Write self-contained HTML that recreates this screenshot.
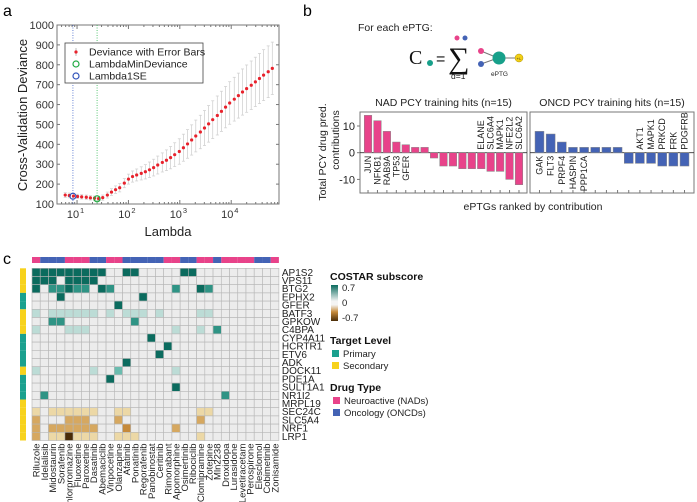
<!DOCTYPE html>
<html><head><meta charset="utf-8"><style>
body{margin:0;background:#fff;}
svg{display:block;font-family:"Liberation Sans",sans-serif;}
</style></head><body>
<svg id="fig" width="697" height="502" viewBox="0 0 697 502" xmlns="http://www.w3.org/2000/svg">
<text x="3" y="16" font-size="16">a</text>
<text x="303" y="16" font-size="16">b</text>
<text x="3" y="264" font-size="16">c</text>
<g id="pa"></g>
<g id="pb"></g>
<g id="pc"></g>
</svg>
<script>
// ---------- Panel a data ----------
const logLambda = [0.77,0.85,0.93,1.01,1.09,1.18,1.26,1.34,1.42,1.50,1.59,1.67,1.75,1.83,1.92,2.00,2.08,2.16,2.25,2.33,2.41,2.49,2.57,2.66,2.74,2.82,2.90,2.99,3.07,3.15,3.23,3.31,3.40,3.48,3.56,3.64,3.73,3.81,3.89,3.97,4.06,4.14,4.22,4.30,4.39,4.47,4.55,4.63,4.72,4.80];
const deviance = [145,143,140,138,136,134,131,129,127,132,145,160,172,182,205,225,238,246,254,262,272,283,296,309,320,333,348,364,383,402,422,442,462,482,503,524,545,566,587,608,627,645,663,680,697,714,731,748,765,782];
const devErr = [12,12,12,11,11,11,11,11,12,13,15,17,19,21,23,25,28,30,33,36,39,42,45,48,52,56,60,64,68,72,76,80,84,88,92,95,98,101,104,107,110,113,116,119,122,124,126,128,130,132];
const yTicksA = [100,200,300,400,500,600,700,800,900,1000];
const xTicksA = [1,2,3,4];
const lambda1SE = 0.92, lambdaMin = 1.39;
const dev1SE = 139, devMin = 126;

// ---------- Panel b data ----------
const nadValues = [14,12,8,4,3,2,2,-2,-5,-5,-6,-6,-6,-7,-7,-10,-12];
const nadLabelsLow = ["JUN","NFKB1","RAB9A","TP53","GFER"];
const nadLabelsHigh = ["ELANE","SLC6A4","MAPK1","NFE2L2","SLC6A2"];
const oncValues = [8,7,4,2,2,2,2,2,-4,-4,-4,-5,-5,-5];
const oncLabelsLow = ["GAK","FLT3","PRPF4","HASPIN","PPP1CA"];
const oncLabelsHigh = ["AKT1","MAPK1","PRKCD","FRK","PDGFRB"];
const yTicksB = [10,0,-10];

// ---------- Panel c data ----------
const drugs = ["Riluzole","Idelalisib","Midostaurin","Sorafenib","Chlorpromazine","Fluoxetine","Paroxetine","Dasatinib","Abemaciclib","Vinpocetine","Olanzapine","Afatinib","Ponatinib","Regorafenib","Panobinostat","Ceritinib","Rimonabant","Apomorphine","Osimertinib","Ribociclib","Clomipramine","Zotepine","Mln2238","Droxidopa","Lurasidone","Levetiracetam","Perospirone","Elesclomol","Cobimetinib","Zonisamide"];
const drugTypes = "PBBBPPPBBPPBBBBBPPBBPPBPPPPBBP";
const genes = ["AP1S2","VPS11","BTG2","EPHX2","GFER","BATF3","GPKOW","C4BPA","CYP4A11","HCRTR1","ETV6","ADK","DOCK11","PDE1A","SULT1A1","NR1I2","MRPL19","SEC24C","SLC5A4","NRF1","LRP1"];
const targetLevels = "SSSPPSSSPPPPSPPPSSSSS";
const scoreRows = [
"DDDDDDDDD00DD00000DD0000000000",
"DDD0DDDD0000000000000000000000",
"D0MMDMM0DM0000000M00DM00000000",
"000D000000000D0000000000000000",
"0000000000D0000000000000000000",
"L0LLLLLL0L0LLL0L0000LL00000000",
"00MM00000000M00000000000000000",
"L000LLL0000000000L00L0M0000000",
"00000000000000D000000000000000",
"0000000000000000D0000000000000",
"000000000000000D00000000000000",
"00000000000D000000000000000000",
"L000000L00N000000L000000000000",
"000000000D00000000000000000000",
"00000000000000000D000000000000",
"0M000000000000000000000M000000",
"000000000000000000000000000000",
"a0aaaaaa00aa00000000aa00000000",
"b000bbb000b000000000b000000000",
"b0bbbbbb000c00000b000000000000",
"b0aaKaaa00aaa0000000a000000000"];
const codeValue = {"0":0,"D":0.7,"M":0.45,"N":0.35,"L":0.15,"a":-0.18,"b":-0.38,"c":-0.48,"K":-0.7};

const NS="http://www.w3.org/2000/svg";
function mk(parent,tag,attrs,text){const e=document.createElementNS(NS,tag);for(const k in attrs)e.setAttribute(k,attrs[k]);if(text!==undefined)e.textContent=text;parent.appendChild(e);return e;}

// ===== Panel a =====
const pa=document.getElementById('pa');
const AX0=57,AX1=279,AY0=25,AY1=204;
const xA=v=>AX0+(v-0.61)/(4.93-0.61)*(AX1-AX0);
const yA=v=>AY1-(v-100)/900*(AY1-AY0);
let r=mk(pa,'rect',{x:AX0,y:AY0,width:AX1-AX0,height:AY1-AY0,fill:'#fff',stroke:'#777','stroke-width':1});


yTicksA.forEach(t=>{
 mk(pa,'line',{x1:AX0,x2:AX0+3,y1:yA(t),y2:yA(t),stroke:'#777'});
 mk(pa,'line',{x1:AX1,x2:AX1-3,y1:yA(t),y2:yA(t),stroke:'#777'});
 const tx=mk(pa,'text',{x:AX0-3,y:yA(t)+4,'font-size':11,'text-anchor':'end',fill:'#333'},t);
 
 
});
for(let d=0;d<5;d++){for(let m=1;m<10;m++){const v=d+Math.log10(m);if(v<0.61||v>4.93)continue;const L=m===1?4:2;
 mk(pa,'line',{x1:xA(v),x2:xA(v),y1:AY1,y2:AY1-L,stroke:'#777'});mk(pa,'line',{x1:xA(v),x2:xA(v),y1:AY0,y2:AY0+L,stroke:'#777'});}}
xTicksA.forEach(t=>{
 const tx=mk(pa,'text',{x:xA(t)-4,y:AY1+14,'font-size':11,'text-anchor':'middle',fill:'#333'},'10');
 
 
 mk(pa,'text',{x:xA(t)+3,y:AY1+9,'font-size':7.5,fill:'#333'},t);
});
let t1=mk(pa,'text',{x:0,y:0,'font-size':13,'text-anchor':'middle',transform:'translate(27,115) rotate(-90)',fill:'#222'},'Cross-Validation Deviance');


let t2=mk(pa,'text',{x:168,y:236,'font-size':13,'text-anchor':'middle',fill:'#222'},'Lambda');


mk(pa,'line',{x1:xA(lambda1SE),x2:xA(lambda1SE),y1:AY0,y2:AY1,stroke:'#4466cc','stroke-width':0.8,'stroke-dasharray':'1,1.5'});
mk(pa,'line',{x1:xA(lambdaMin),x2:xA(lambdaMin),y1:AY0,y2:AY1,stroke:'#33bb55','stroke-width':0.8,'stroke-dasharray':'1,1.5'});
logLambda.forEach((lx,i)=>{
 const x=xA(lx),yt=yA(deviance[i]+devErr[i]),yb=yA(deviance[i]-devErr[i]);
 const g=mk(pa,'g',{});
 
 
 mk(g,'line',{x1:x,x2:x,y1:yt,y2:yb,stroke:'#d2d2d2','stroke-width':0.8});
 mk(g,'line',{x1:x-1.5,x2:x+1.5,y1:yt,y2:yt,stroke:'#d2d2d2','stroke-width':0.8});
 mk(g,'line',{x1:x-1.5,x2:x+1.5,y1:yb,y2:yb,stroke:'#d2d2d2','stroke-width':0.8});
});
logLambda.forEach((lx,i)=>{
 const c=mk(pa,'circle',{cx:xA(lx),cy:yA(deviance[i]),r:1.6,fill:'#e8222c'});
 
 
});
let c1=mk(pa,'circle',{cx:xA(lambda1SE),cy:yA(dev1SE),r:3,fill:'none',stroke:'#3355bb','stroke-width':1.2});


let c2=mk(pa,'circle',{cx:xA(lambdaMin),cy:yA(devMin),r:3,fill:'none',stroke:'#22aa44','stroke-width':1.2});


// legend
const lg=mk(pa,'g',{});


mk(lg,'rect',{x:65,y:43,width:138,height:40,fill:'#fff',stroke:'#444','stroke-width':0.8});
mk(lg,'line',{x1:76,x2:76,y1:48,y2:56,stroke:'#bbb'});
mk(lg,'circle',{cx:76,cy:52,r:1.6,fill:'#e8222c'});
mk(lg,'text',{x:89,y:55.5,'font-size':10.5,fill:'#222'},'Deviance with Error Bars');
mk(lg,'circle',{cx:76,cy:64,r:3,fill:'none',stroke:'#22aa44','stroke-width':1.2});
mk(lg,'text',{x:89,y:67.5,'font-size':10.5,fill:'#222'},'LambdaMinDeviance');
mk(lg,'circle',{cx:76,cy:76,r:3,fill:'none',stroke:'#3355bb','stroke-width':1.2});
mk(lg,'text',{x:89,y:79.5,'font-size':10.5,fill:'#222'},'Lambda1SE');

// ===== Panel b =====
const pb=document.getElementById('pb');
let ft=mk(pb,'text',{x:358,y:31,'font-size':10.5,fill:'#222'},'For each ePTG:');


const fg=mk(pb,'g',{});


mk(fg,'text',{x:409,y:64,'font-size':20,'font-family':'Liberation Serif,serif',fill:'#111'},'C');
mk(fg,'circle',{cx:430,cy:63,r:3,fill:'#17a08a'});
mk(fg,'text',{x:436,y:64,'font-size':16,fill:'#111'},'=');
mk(fg,'text',{x:448,y:68,'font-size':30,'font-family':'Liberation Serif,serif',fill:'#111'},'∑');
mk(fg,'text',{x:451,y:79,'font-size':8.5,fill:'#222'},'d=1');
mk(fg,'circle',{cx:457,cy:38,r:2.5,fill:'#e8438a'});
mk(fg,'circle',{cx:465,cy:38,r:2.5,fill:'#4463b5'});
mk(fg,'line',{x1:481,y1:51,x2:498,y2:58,stroke:'#777'});
mk(fg,'line',{x1:481,y1:64,x2:498,y2:58,stroke:'#777'});
mk(fg,'line',{x1:498,y1:58,x2:520,y2:58,stroke:'#777'});
mk(fg,'circle',{cx:481,cy:51,r:3,fill:'#e8438a'});
mk(fg,'circle',{cx:481,cy:64,r:3,fill:'#4463b5'});
mk(fg,'circle',{cx:499,cy:58,r:6.5,fill:'#17a08a'});
mk(fg,'circle',{cx:519,cy:58,r:4,fill:'#f3d016',stroke:'#a89010','stroke-width':0.5});
mk(fg,'text',{x:519,y:60,'font-size':4,'text-anchor':'middle',fill:'#222'},'+/-');
mk(fg,'text',{x:491,y:76,'font-size':6.5,fill:'#222'},'ePTG');

const BY=v=>152.7-v*2.67;
function barPanel(x0,x1,vals,color,lowL,highL,title,name){
 const g=mk(pb,'g',{});
 
 
 mk(g,'rect',{x:x0,y:112,width:x1-x0,height:81,fill:'#fff',stroke:'#777','stroke-width':1});
 mk(g,'line',{x1:x0,x2:x1,y1:BY(0),y2:BY(0),stroke:'#333','stroke-width':0.8});
 const n=vals.length, step=(x1-x0)/(n+0.7), bw=step*0.8;
 const tt=mk(g,'text',{x:(x0+x1)/2,y:106,'font-size':10.5,'text-anchor':'middle',fill:'#222'},title);
 
 
 vals.forEach((v,i)=>{
  const cx=x0+step*(i+0.85);
  mk(g,'line',{x1:cx,x2:cx,y1:193,y2:190,stroke:'#777'});
  const b=mk(g,'rect',{x:cx-bw/2,y:Math.min(BY(v),BY(0)),width:bw,height:Math.abs(BY(v)-BY(0)),fill:color,stroke:'#888','stroke-width':0.5});
  
  
  if(i<lowL.length){mk(g,'text',{x:0,y:0,'font-size':9,'text-anchor':'end',fill:'#222',transform:`translate(${cx+3},${BY(0)+3}) rotate(-90)`},lowL[i]);}
  const hi=i-(n-highL.length);
  if(hi>=0){mk(g,'text',{x:0,y:0,'font-size':9,'text-anchor':'start',fill:'#222',transform:`translate(${cx+3},${BY(0)-3}) rotate(-90)`},highL[hi]);}
 });
}
barPanel(360,527,nadValues,'#e8438a',nadLabelsLow,nadLabelsHigh,'NAD PCY training hits (n=15)','nad-bar-chart');
barPanel(530,694,oncValues,'#4463b5',oncLabelsLow,oncLabelsHigh,'ONCD PCY training hits (n=15)','oncd-bar-chart');
yTicksB.forEach(t=>{
 mk(pb,'line',{x1:360,x2:357,y1:BY(t),y2:BY(t),stroke:'#777'});
 const tx=mk(pb,'text',{x:355,y:BY(t)+4,'font-size':11,'text-anchor':'end',fill:'#222'},t);
 
 
});
let yb1=mk(pb,'text',{x:0,y:0,'font-size':10.5,'text-anchor':'middle',fill:'#222',transform:'translate(326,152) rotate(-90)'},'Total PCY drug pred.');


mk(pb,'text',{x:0,y:0,'font-size':10.5,'text-anchor':'middle',fill:'#222',transform:'translate(339,140) rotate(-90)'},'contributions');
let xb=mk(pb,'text',{x:533,y:210,'font-size':10.5,'text-anchor':'middle',fill:'#222'},'ePTGs ranked by contribution');



// ===== Panel c =====
const pc=document.getElementById('pc');
const HX=32,HY=268.3,CW=8.23,CH=8.2;
function cellColor(v){
 if(v===0)return '#ececec';
 if(v>0){if(v>=0.6)return '#0b6b5e';if(v>=0.4)return '#2f9485';if(v>=0.3)return '#6bbcaf';return '#bcdcd6';}
 if(v<=-0.6)return '#4a2c08';if(v<=-0.45)return '#c68a3a';if(v<=-0.3)return '#d6a860';return '#ecd8a6';
}
drugTypes.split('').forEach((t,j)=>{
 const rr=mk(pc,'rect',{x:HX+j*CW,y:257,width:CW,height:6,fill:t==='P'?'#e8438a':'#4463b5'});
 
 
});
genes.forEach((g,i)=>{
 const y=HY+i*CH;
 const tl=mk(pc,'rect',{x:20,y:y,width:6,height:CH,fill:targetLevels[i]==='P'?'#1aa08e':'#f7d21c'});
 
 
 scoreRows[i].split('').forEach((ch,j)=>{
  const c=mk(pc,'rect',{x:HX+j*CW,y:y,width:CW,height:CH,fill:cellColor(codeValue[ch]),stroke:'#b5b5b5','stroke-width':0.6});
  
  
 });
 const lbl=mk(pc,'text',{x:HX+30*CW+3,y:y+7.5,'font-size':10,fill:'#222'},g);
 
 
});
const HB=HY+genes.length*CH;
drugs.forEach((d,j)=>{
 const cx=HX+j*CW+CW/2+3.5;
 const l=mk(pc,'text',{x:0,y:0,'font-size':9.5,'text-anchor':'end',fill:'#222',transform:`translate(${cx},${HB+3}) rotate(-90)`},d);
 
 
});
// legends
const lgc=mk(pc,'g',{});


mk(lgc,'text',{x:330,y:280,'font-size':10.5,'font-weight':'bold',fill:'#111'},'COSTAR subscore');
const defs=mk(lgc,'defs',{});
const gr=mk(defs,'linearGradient',{id:'gd',x1:0,y1:0,x2:0,y2:1});
[['0','#0b6b5e'],['0.45','#f4f4f4'],['0.55','#f4f4f4'],['0.75','#c68a3a'],['1','#4a2c08']].forEach(s=>mk(gr,'stop',{offset:s[0],'stop-color':s[1]}));
mk(lgc,'rect',{x:331,y:285,width:7,height:36,fill:'url(#gd)'});
mk(lgc,'text',{x:342,y:291,'font-size':9.5,fill:'#222'},'0.7');
mk(lgc,'text',{x:342,y:306,'font-size':9.5,fill:'#222'},'0');
mk(lgc,'text',{x:342,y:321,'font-size':9.5,fill:'#222'},'-0.7');
mk(lgc,'text',{x:330,y:344,'font-size':10.5,'font-weight':'bold',fill:'#111'},'Target Level');
mk(lgc,'rect',{x:332,y:350,width:7,height:7,fill:'#1aa08e'});
mk(lgc,'text',{x:343,y:357,'font-size':9.5,fill:'#222'},'Primary');
mk(lgc,'rect',{x:332,y:362,width:7,height:7,fill:'#f7d21c'});
mk(lgc,'text',{x:343,y:369,'font-size':9.5,fill:'#222'},'Secondary');
mk(lgc,'text',{x:330,y:391,'font-size':10.5,'font-weight':'bold',fill:'#111'},'Drug Type');
mk(lgc,'rect',{x:333,y:397,width:7,height:7,fill:'#e8438a'});
mk(lgc,'text',{x:344,y:404,'font-size':9.5,fill:'#222'},'Neuroactive (NADs)');
mk(lgc,'rect',{x:333,y:409,width:7,height:7,fill:'#4463b5'});
mk(lgc,'text',{x:344,y:416,'font-size':9.5,fill:'#222'},'Oncology (ONCDs)');
</script>
</body></html>
